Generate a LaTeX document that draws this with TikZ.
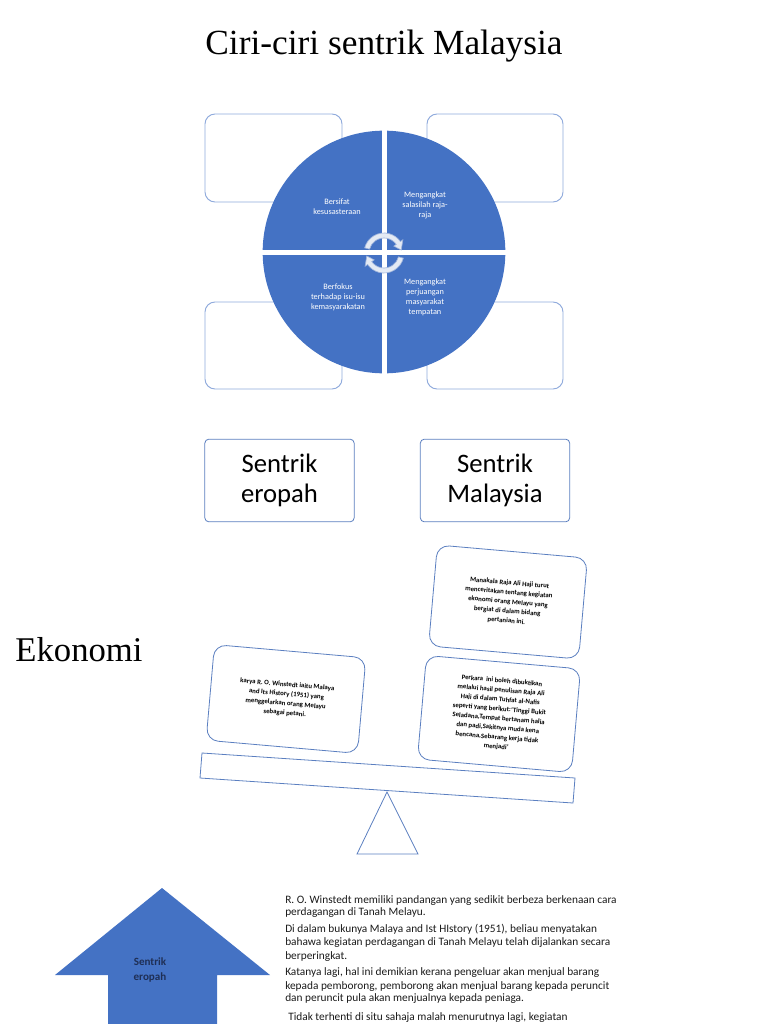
\documentclass[tikz,border=0pt]{standalone}
\usepackage{fontspec}
\setmainfont{Liberation Serif}
\newfontfamily\calfont{Carlito}
\definecolor{qblue}{HTML}{4472C4}
\definecolor{lineblue}{HTML}{8FAADC}
\definecolor{boxblue}{HTML}{5B7FC0}
\definecolor{arrfill}{HTML}{E4EAF4}
\definecolor{arredge}{HTML}{9FB4DC}
\definecolor{navy}{HTML}{1F2F55}
\definecolor{txt}{HTML}{1A1A1A}
\begin{document}
\begin{tikzpicture}[x=0.75pt,y=-0.75pt,
  sidebox/.style={draw=lineblue,fill=white,rounded corners=7.5pt,line width=0.7pt},
  qtext/.style={font=\calfont\fontsize{6.2}{7.6}\selectfont,text=white,align=center},
  sbox/.style={draw=boxblue,fill=white,rounded corners=3pt,line width=0.6pt,font=\calfont\fontsize{20}{23}\selectfont,align=center,minimum width=112pt,minimum height=62pt},
  rbox/.style={draw=boxblue,fill=white,rounded corners=9pt,line width=0.6pt,rotate=-5,font=\calfont\bfseries\fontsize{5.1}{7.1}\selectfont,align=center,inner sep=0pt},
  para/.style={anchor=west,font=\calfont\fontsize{8.5}{10}\selectfont,text=txt,inner sep=0pt}]
\useasboundingbox (0,0) rectangle (768,1024);
% title
\node (title) at (384,46) {\fontsize{26.5}{30}\selectfont Ciri-ciri sentrik Malaysia};
% quadrant side boxes
\draw[sidebox] (205,114) rectangle (342,202);
\draw[sidebox] (427,114) rectangle (563,202);
\draw[sidebox] (205,302) rectangle (342,389);
\draw[sidebox] (427,302) rectangle (563,389);
% circle
\fill[qblue] (384,252) circle (91pt);
\fill[white] (381.5,125) rectangle (386.5,380);
\fill[white] (255,249.5) rectangle (513,254.5);
\node[qtext] (q1) at (337,207) {Bersifat\\kesusasteraan};
\node[qtext] (q2) at (425,205) {Mengangkat\\salasilah raja-\\raja};
\node[qtext] (q3) at (338,297) {Berfokus\\terhadap isu-isu\\kemasyarakatan};
\node[qtext] (q4) at (425,297) {Mengangkat\\perjuangan\\masyarakat\\tempatan};
% circular arrows
\begin{scope}[shift={(384,253)},yscale=-1]
\filldraw[fill=arrfill,draw=arredge,line width=0.5pt]
  (165:20) arc[start angle=165,end angle=35,radius=20] -- (35:23) -- (10:17.5) -- (35:12) -- (35:15) arc[start angle=35,end angle=165,radius=15] -- cycle;
\begin{scope}[rotate=180]
\filldraw[fill=arrfill,draw=arredge,line width=0.5pt]
  (165:20) arc[start angle=165,end angle=35,radius=20] -- (35:23) -- (10:17.5) -- (35:12) -- (35:15) arc[start angle=35,end angle=165,radius=15] -- cycle;
\end{scope}
\end{scope}
% sentrik boxes
\node[sbox] (se) at (279.5,480.5) {Sentrik\\eropah};
\node[sbox] (sm) at (495,480.5) {Sentrik\\Malaysia};
% Ekonomi
\node (eko) at (79,650) {\fontsize{26}{30}\selectfont Ekonomi};
% balance beam and fulcrum
\draw[boxblue,line width=0.6pt] (202,753) -- (575,778) -- (573,803) -- (200,778) -- cycle;
\draw[boxblue,line width=0.6pt] (387,792) -- (418,854) -- (357,854) -- cycle;
% rotated boxes
\node[rbox,minimum width=114pt,minimum height=72pt] (rl) at (286,699)
 {karya R. O. Winstedt iaitu Malaya\\and Its History (1951) yang\\menggelarkan orang Melayu\\sebagai petani.};
\node[rbox,minimum width=113pt,minimum height=76pt] (ru) at (508,602)
 {Manakala Raja Ali Haji turut\\menceritakan tentang kegiatan\\ekonomi orang Melayu yang\\bergiat di dalam bidang\\pertanian ini.};
\node[rbox,minimum width=116pt,minimum height=78pt] (rd) at (499,714)
 {Perkara\ \ ini boleh dibuktikan\\melalui hasil penulisan Raja Ali\\Haji di dalam Tuhfat al-Nafis\\seperti yang berikut:‘Tinggi Bukit\\Seladana,Tempat bertanam halia\\dan padi,Sakitnya muda kena\\bencana,Sebarang kerja tidak\\menjadi’};
% up arrow
\fill[qblue] (162,888) -- (270,975) -- (217,975) -- (217,1030) -- (108,1030) -- (108,975) -- (55,975) -- cycle;
\node[font=\calfont\bfseries\fontsize{8.3}{11}\selectfont,text=navy,align=center] (arr) at (150,970) {Sentrik\\eropah};
% paragraph text
\node[para] (l1) at (285,901) {R. O. Winstedt memiliki pandangan yang sedikit berbeza berkenaan cara};
\node[para] (l2) at (285,913) {perdagangan di Tanah Melayu.};
\node[para] (l3) at (285,929) {Di dalam bukunya Malaya and Ist HIstory (1951), beliau menyatakan};
\node[para] (l4) at (285,943) {bahawa kegiatan perdagangan di Tanah Melayu telah dijalankan secara};
\node[para] (l5) at (285,957) {berperingkat.};
\node[para] (l6) at (285,973) {Katanya lagi, hal ini demikian kerana pengeluar akan menjual barang};
\node[para] (l7) at (285,987) {kepada pemborong, pemborong akan menjual barang kepada peruncit};
\node[para] (l8) at (285,999) {dan peruncit pula akan menjualnya kepada peniaga.};
\node[para] (l9) at (288,1018) {Tidak terhenti di situ sahaja malah menurutnya lagi, kegiatan};
\end{tikzpicture}
\end{document}
